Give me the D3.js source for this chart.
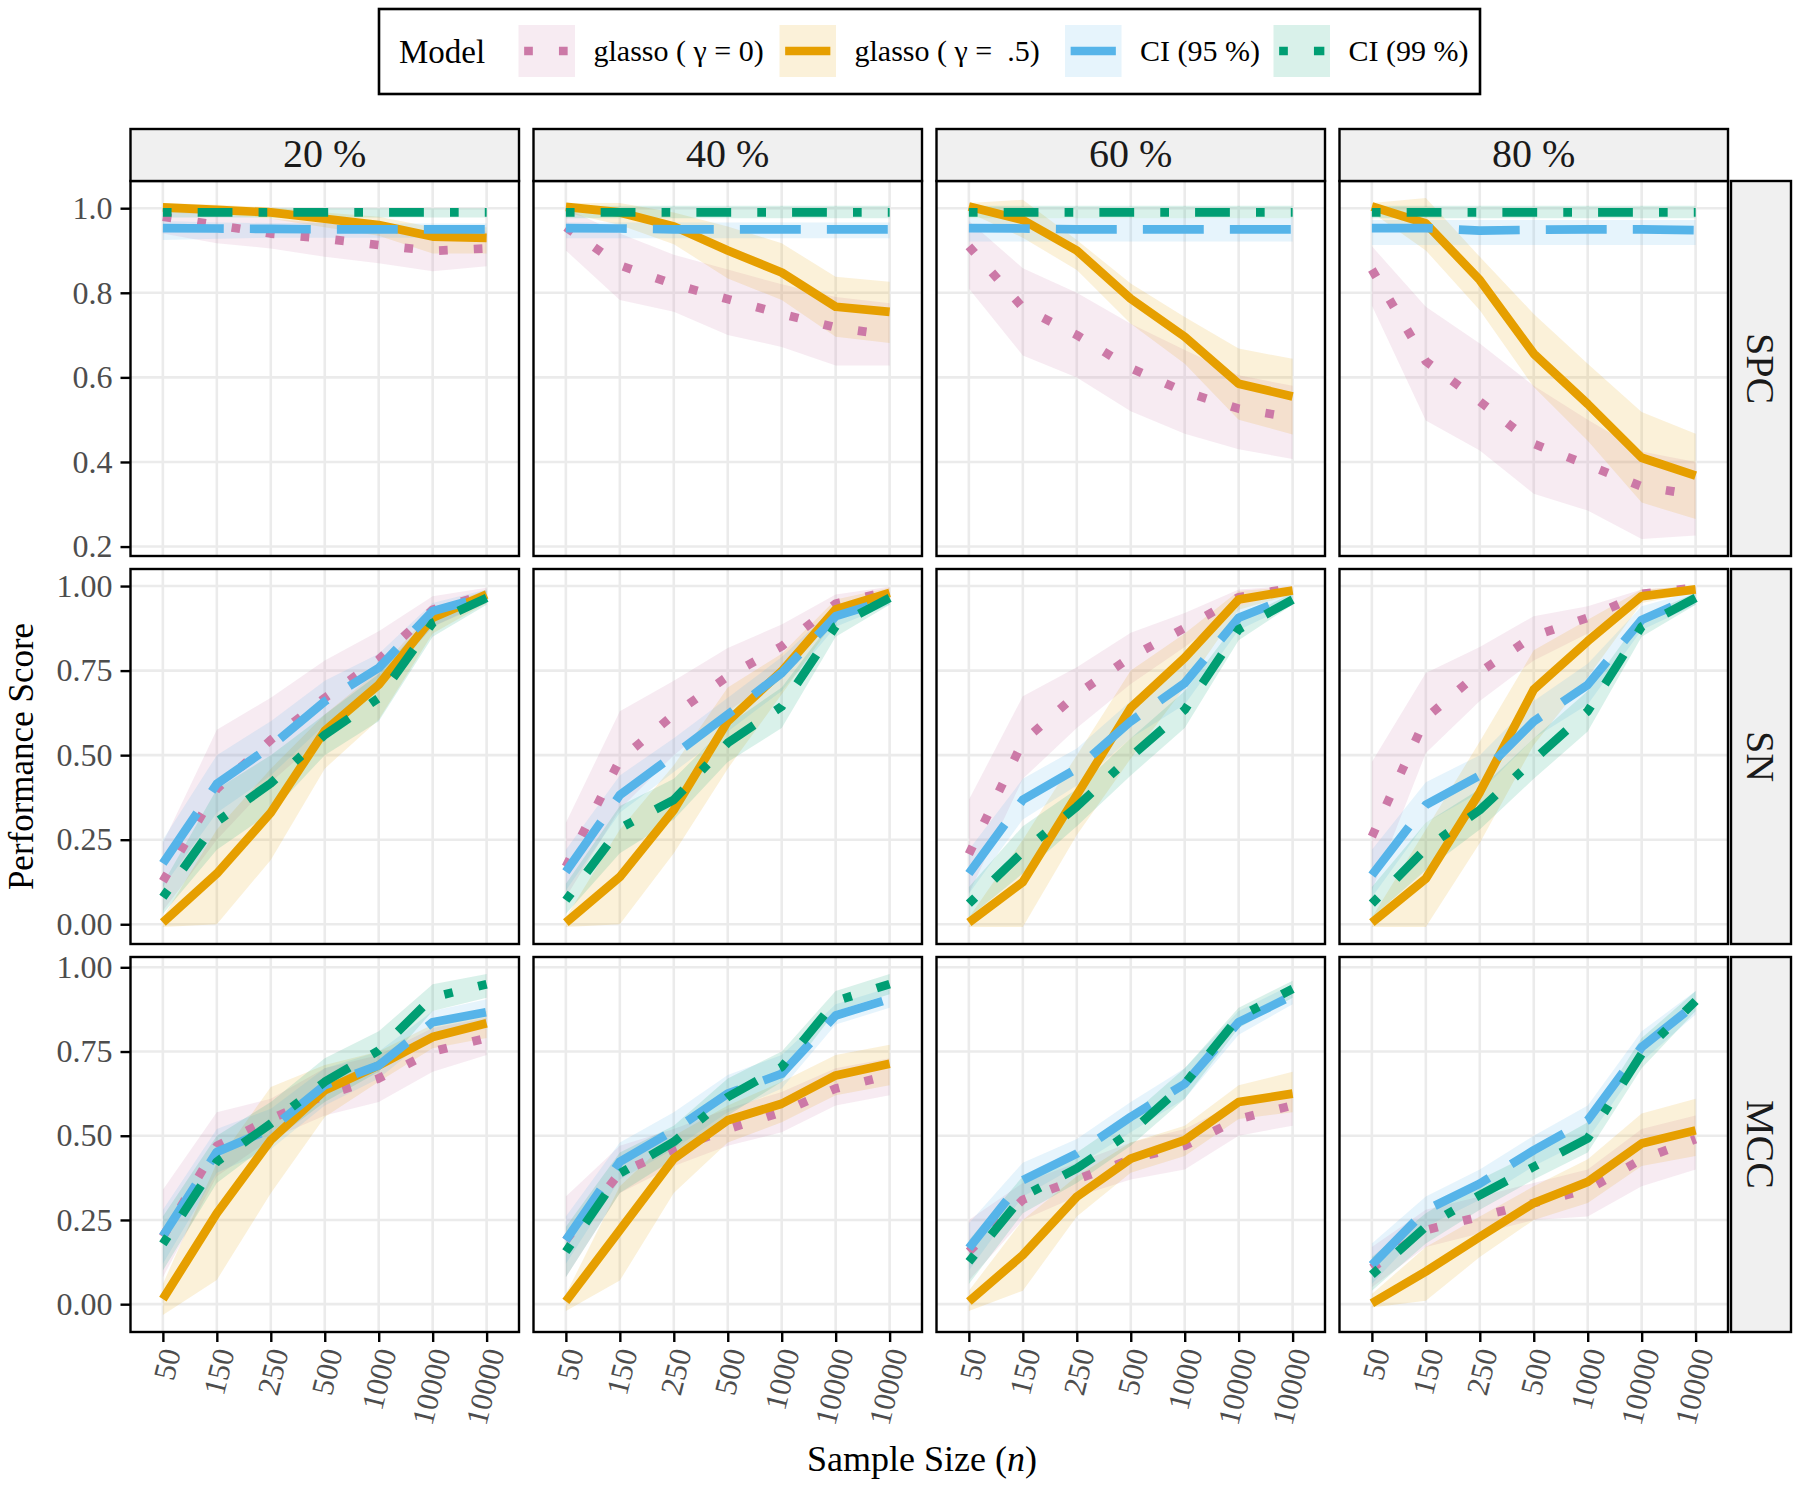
<!DOCTYPE html>
<html>
<head>
<meta charset="utf-8">
<script src="https://cdn.jsdelivr.net/npm/d3@7"></script>
<style>
  body { margin: 0; background: #fff; }
  text { font-family: "Liberation Serif", "Times New Roman", serif; }
</style>
</head>
<body>
<div id="main"></div>
<script>
// ---- data ----
var sampleSizes = ["50", "150", "250", "500", "1000", "10000", "10000"];
var proportions = ["20 %", "40 %", "60 %", "80 %"];
var metrics = ["SPC", "SN", "MCC"];
var modelNames = ["glasso ( \u03b3 = 0)", "glasso ( \u03b3 =  .5)", "CI (95 %)", "CI (99 %)"];
var spcTicks = [0.2, 0.4, 0.6, 0.8, 1.0];
var unitTicks = [0, 0.25, 0.5, 0.75, 1.0];

// SPC, one row per proportion (20, 40, 60, 80 %)
var spc_glasso0 = [
  [0.98, 0.96, 0.94, 0.928, 0.913, 0.899, 0.905],
  [0.955, 0.865, 0.82, 0.785, 0.75, 0.718, 0.70],
  [0.91, 0.765, 0.70, 0.622, 0.566, 0.526, 0.505],
  [0.855, 0.638, 0.543, 0.443, 0.393, 0.342, 0.322]];
var spc_glasso0_lo = [
  [0.94, 0.917, 0.905, 0.885, 0.87, 0.851, 0.863],
  [0.90, 0.783, 0.755, 0.70, 0.672, 0.628, 0.628],
  [0.81, 0.652, 0.60, 0.52, 0.467, 0.43, 0.407],
  [0.77, 0.498, 0.427, 0.325, 0.285, 0.218, 0.226]];
var spc_glasso0_hi = [
  [1.0, 0.985, 0.975, 0.965, 0.955, 0.94, 0.945],
  [1.0, 0.94, 0.89, 0.855, 0.82, 0.79, 0.775],
  [0.97, 0.858, 0.80, 0.727, 0.665, 0.605, 0.58],
  [0.91, 0.767, 0.68, 0.58, 0.50, 0.425, 0.40]];
var spc_glasso5 = [
  [1.002, 0.996, 0.99, 0.975, 0.96, 0.933, 0.93],
  [1.003, 0.99, 0.957, 0.90, 0.848, 0.767, 0.755],
  [1.004, 0.972, 0.90, 0.786, 0.696, 0.585, 0.555],
  [1.004, 0.964, 0.83, 0.656, 0.537, 0.41, 0.368]];
var spc_glasso5_lo = [
  [0.99, 0.985, 0.975, 0.955, 0.935, 0.893, 0.893],
  [0.99, 0.96, 0.915, 0.834, 0.783, 0.696, 0.681],
  [0.99, 0.93, 0.854, 0.727, 0.632, 0.50, 0.465],
  [0.99, 0.90, 0.759, 0.577, 0.45, 0.304, 0.265]];
var spc_glasso5_hi = [
  [1.012, 1.008, 1.002, 0.99, 0.98, 0.955, 0.955],
  [1.012, 1.012, 0.99, 0.957, 0.917, 0.838, 0.826],
  [1.012, 1.02, 0.925, 0.822, 0.743, 0.668, 0.644],
  [1.012, 1.024, 0.885, 0.75, 0.632, 0.518, 0.467]];
var spc_ci95 = [
  [0.953, 0.952, 0.951, 0.95, 0.95, 0.95, 0.95],
  [0.953, 0.952, 0.95, 0.95, 0.95, 0.95, 0.95],
  [0.953, 0.952, 0.95, 0.95, 0.95, 0.95, 0.95],
  [0.953, 0.953, 0.947, 0.949, 0.95, 0.95, 0.948]];
var spc_ci95_lo = [
  [0.925, 0.928, 0.93, 0.93, 0.93, 0.93, 0.93],
  [0.929, 0.929, 0.929, 0.929, 0.929, 0.929, 0.929],
  [0.921, 0.921, 0.921, 0.921, 0.921, 0.921, 0.921],
  [0.913, 0.913, 0.913, 0.913, 0.913, 0.913, 0.913]];
var spc_ci95_hi = [
  [0.97, 0.966, 0.965, 0.965, 0.964, 0.964, 0.964],
  [0.966, 0.966, 0.966, 0.966, 0.966, 0.966, 0.966],
  [0.976, 0.976, 0.976, 0.976, 0.976, 0.976, 0.976],
  [0.972, 0.972, 0.972, 0.972, 0.972, 0.972, 0.972]];
var spc_ci99 = [
  [0.99, 0.99, 0.99, 0.99, 0.99, 0.99, 0.99],
  [0.99, 0.99, 0.99, 0.99, 0.99, 0.99, 0.99],
  [0.99, 0.99, 0.99, 0.99, 0.99, 0.99, 0.99],
  [0.99, 0.99, 0.99, 0.99, 0.99, 0.99, 0.99]];
var spc_ci99_lo = [
  [0.978, 0.978, 0.978, 0.978, 0.978, 0.978, 0.978],
  [0.976, 0.976, 0.976, 0.976, 0.976, 0.976, 0.976],
  [0.976, 0.976, 0.976, 0.976, 0.976, 0.976, 0.976],
  [0.976, 0.976, 0.976, 0.976, 0.976, 0.976, 0.976]];
var spc_ci99_hi = [
  [1.0, 1.0, 1.0, 1.0, 1.0, 1.0, 1.0],
  [1.006, 1.006, 1.006, 1.006, 1.006, 1.006, 1.006],
  [1.006, 1.006, 1.006, 1.006, 1.006, 1.006, 1.006],
  [1.006, 1.006, 1.006, 1.006, 1.006, 1.006, 1.006]];

// SN
var sn_glasso0 = [
  [0.127, 0.40, 0.545, 0.669, 0.783, 0.93, 0.975],
  [0.17, 0.486, 0.62, 0.733, 0.822, 0.948, 0.985],
  [0.207, 0.54, 0.68, 0.79, 0.876, 0.967, 0.995],
  [0.259, 0.61, 0.746, 0.852, 0.906, 0.977, 0.995]];
var sn_glasso0_lo = [
  [0.04, 0.25, 0.42, 0.56, 0.70, 0.88, 0.95],
  [0.08, 0.34, 0.50, 0.63, 0.74, 0.92, 0.975],
  [0.09, 0.43, 0.58, 0.71, 0.82, 0.94, 0.985],
  [0.10, 0.506, 0.66, 0.78, 0.86, 0.955, 0.99]];
var sn_glasso0_hi = [
  [0.24, 0.575, 0.67, 0.78, 0.866, 0.97, 0.995],
  [0.30, 0.63, 0.72, 0.817, 0.886, 0.975, 0.998],
  [0.368, 0.674, 0.76, 0.862, 0.92, 0.99, 1.0],
  [0.48, 0.743, 0.82, 0.911, 0.94, 0.99, 1.0]];
var sn_glasso5 = [
  [0.005, 0.15, 0.33, 0.572, 0.708, 0.906, 0.975],
  [0.005, 0.14, 0.338, 0.60, 0.748, 0.931, 0.98],
  [0.005, 0.125, 0.382, 0.64, 0.788, 0.96, 0.987],
  [0.005, 0.135, 0.39, 0.694, 0.837, 0.97, 0.99]];
var sn_glasso5_lo = [
  [-0.008, 0.0, 0.19, 0.46, 0.605, 0.86, 0.95],
  [-0.008, 0.0, 0.21, 0.46, 0.68, 0.90, 0.97],
  [-0.008, -0.008, 0.264, 0.49, 0.70, 0.93, 0.975],
  [-0.008, -0.008, 0.24, 0.53, 0.73, 0.95, 0.98]];
var sn_glasso5_hi = [
  [0.02, 0.28, 0.46, 0.62, 0.75, 0.93, 0.99],
  [0.02, 0.28, 0.47, 0.70, 0.80, 0.96, 0.995],
  [0.02, 0.25, 0.50, 0.75, 0.86, 0.985, 0.998],
  [0.02, 0.28, 0.54, 0.81, 0.90, 0.99, 1.0]];
var sn_ci95 = [
  [0.18, 0.415, 0.526, 0.659, 0.758, 0.926, 0.97],
  [0.155, 0.382, 0.50, 0.62, 0.743, 0.911, 0.96],
  [0.15, 0.368, 0.46, 0.60, 0.713, 0.906, 0.97],
  [0.145, 0.353, 0.44, 0.60, 0.708, 0.90, 0.97]];
var sn_ci95_lo = [
  [0.11, 0.33, 0.44, 0.59, 0.70, 0.88, 0.955],
  [0.10, 0.33, 0.45, 0.57, 0.69, 0.88, 0.945],
  [0.09, 0.31, 0.41, 0.55, 0.65, 0.87, 0.945],
  [0.08, 0.30, 0.39, 0.55, 0.65, 0.87, 0.945]];
var sn_ci95_hi = [
  [0.25, 0.50, 0.60, 0.72, 0.80, 0.95, 0.99],
  [0.22, 0.44, 0.55, 0.67, 0.79, 0.94, 0.98],
  [0.22, 0.43, 0.52, 0.66, 0.77, 0.94, 0.985],
  [0.22, 0.42, 0.50, 0.66, 0.77, 0.94, 0.985]];
var sn_ci99 = [
  [0.08, 0.303, 0.417, 0.56, 0.669, 0.891, 0.965],
  [0.071, 0.284, 0.368, 0.536, 0.644, 0.881, 0.965],
  [0.061, 0.214, 0.348, 0.496, 0.634, 0.872, 0.96],
  [0.061, 0.224, 0.338, 0.486, 0.63, 0.88, 0.965]];
var sn_ci99_lo = [
  [0.03, 0.22, 0.33, 0.50, 0.60, 0.85, 0.945],
  [0.03, 0.21, 0.31, 0.48, 0.58, 0.85, 0.945],
  [0.02, 0.15, 0.29, 0.44, 0.58, 0.84, 0.945],
  [0.02, 0.16, 0.28, 0.43, 0.57, 0.85, 0.945]];
var sn_ci99_hi = [
  [0.12, 0.40, 0.50, 0.62, 0.74, 0.92, 0.985],
  [0.12, 0.35, 0.43, 0.59, 0.70, 0.91, 0.98],
  [0.11, 0.29, 0.40, 0.55, 0.69, 0.90, 0.98],
  [0.11, 0.30, 0.40, 0.55, 0.69, 0.91, 0.98]];

// MCC
var mcc_glasso0 = [
  [0.20, 0.47, 0.55, 0.62, 0.67, 0.75, 0.79],
  [0.19, 0.39, 0.46, 0.52, 0.57, 0.64, 0.68],
  [0.156, 0.31, 0.37, 0.43, 0.47, 0.55, 0.59],
  [0.107, 0.22, 0.26, 0.30, 0.34, 0.43, 0.49]];
var mcc_glasso0_lo = [
  [0.08, 0.38, 0.49, 0.56, 0.60, 0.69, 0.74],
  [0.08, 0.33, 0.41, 0.47, 0.51, 0.59, 0.62],
  [0.07, 0.25, 0.32, 0.37, 0.40, 0.50, 0.53],
  [0.05, 0.17, 0.21, 0.25, 0.26, 0.35, 0.40]];
var mcc_glasso0_hi = [
  [0.34, 0.57, 0.61, 0.70, 0.74, 0.82, 0.85],
  [0.32, 0.47, 0.52, 0.58, 0.63, 0.70, 0.73],
  [0.25, 0.36, 0.42, 0.48, 0.52, 0.60, 0.63],
  [0.17, 0.28, 0.32, 0.36, 0.40, 0.52, 0.56]];
var mcc_glasso5 = [
  [0.015, 0.27, 0.487, 0.635, 0.709, 0.793, 0.834],
  [0.008, 0.22, 0.432, 0.546, 0.595, 0.679, 0.714],
  [0.008, 0.146, 0.319, 0.432, 0.487, 0.60, 0.625],
  [0.003, 0.097, 0.20, 0.30, 0.363, 0.477, 0.516]];
var mcc_glasso5_lo = [
  [-0.032, 0.072, 0.329, 0.556, 0.66, 0.76, 0.79],
  [-0.02, 0.07, 0.33, 0.48, 0.54, 0.62, 0.65],
  [-0.02, 0.04, 0.26, 0.39, 0.44, 0.55, 0.57],
  [-0.01, 0.01, 0.14, 0.25, 0.30, 0.41, 0.44]];
var mcc_glasso5_hi = [
  [0.06, 0.42, 0.645, 0.71, 0.75, 0.83, 0.87],
  [0.03, 0.35, 0.50, 0.59, 0.66, 0.74, 0.77],
  [0.04, 0.25, 0.38, 0.48, 0.53, 0.65, 0.69],
  [0.03, 0.17, 0.26, 0.35, 0.43, 0.566, 0.61]];
var mcc_ci95 = [
  [0.202, 0.452, 0.52, 0.65, 0.709, 0.837, 0.867],
  [0.19, 0.423, 0.516, 0.625, 0.684, 0.857, 0.906],
  [0.166, 0.368, 0.447, 0.556, 0.654, 0.837, 0.916],
  [0.116, 0.279, 0.358, 0.457, 0.546, 0.763, 0.891]];
var mcc_ci95_lo = [
  [0.12, 0.39, 0.46, 0.59, 0.67, 0.80, 0.83],
  [0.12, 0.37, 0.46, 0.57, 0.64, 0.83, 0.88],
  [0.10, 0.32, 0.41, 0.51, 0.61, 0.80, 0.89],
  [0.06, 0.23, 0.31, 0.41, 0.49, 0.72, 0.86]];
var mcc_ci95_hi = [
  [0.28, 0.52, 0.58, 0.70, 0.75, 0.87, 0.905],
  [0.26, 0.48, 0.57, 0.68, 0.74, 0.89, 0.94],
  [0.24, 0.42, 0.49, 0.60, 0.70, 0.87, 0.95],
  [0.18, 0.32, 0.40, 0.50, 0.59, 0.81, 0.93]];
var mcc_ci99 = [
  [0.179, 0.423, 0.536, 0.66, 0.753, 0.911, 0.95],
  [0.156, 0.388, 0.482, 0.615, 0.704, 0.90, 0.95],
  [0.126, 0.32, 0.403, 0.511, 0.654, 0.852, 0.936],
  [0.087, 0.23, 0.324, 0.408, 0.492, 0.743, 0.90]];
var mcc_ci99_lo = [
  [0.10, 0.36, 0.48, 0.60, 0.69, 0.87, 0.91],
  [0.08, 0.33, 0.43, 0.56, 0.66, 0.87, 0.92],
  [0.06, 0.27, 0.36, 0.47, 0.61, 0.82, 0.91],
  [0.04, 0.18, 0.28, 0.37, 0.45, 0.70, 0.87]];
var mcc_ci99_hi = [
  [0.26, 0.50, 0.60, 0.73, 0.81, 0.95, 0.98],
  [0.23, 0.45, 0.53, 0.67, 0.75, 0.93, 0.98],
  [0.19, 0.38, 0.45, 0.56, 0.70, 0.88, 0.96],
  [0.14, 0.27, 0.37, 0.45, 0.54, 0.79, 0.93]];

// ---- styling ----
var colors = ["#CC79A7", "#E69F00", "#56B4E9", "#009E73"];
var lwd = 8.7;
// ggplot linetypes: dotted "13", solid, longdash "73", dotdash "1343"
var dashes = [
  [1, 3].map(function(d) { return d * lwd; }).join(","),
  null,
  [7, 3].map(function(d) { return d * lwd; }).join(","),
  [1, 3, 4, 3].map(function(d) { return d * lwd; }).join(",")
];
var ribbonAlpha = 0.15;

var width = 1800, height = 1489;
var panelLeft = 130.5, panelWidth = 388.5, colGap = 14.5;
var panelTop = 181, panelHeight = 375, rowGap = 13;
var stripH = 52, stripW = 60;

// rows of [mean, lo, hi] per model
var table = [
  [[spc_glasso0, spc_glasso0_lo, spc_glasso0_hi], [spc_glasso5, spc_glasso5_lo, spc_glasso5_hi],
   [spc_ci95, spc_ci95_lo, spc_ci95_hi], [spc_ci99, spc_ci99_lo, spc_ci99_hi]],
  [[sn_glasso0, sn_glasso0_lo, sn_glasso0_hi], [sn_glasso5, sn_glasso5_lo, sn_glasso5_hi],
   [sn_ci95, sn_ci95_lo, sn_ci95_hi], [sn_ci99, sn_ci99_lo, sn_ci99_hi]],
  [[mcc_glasso0, mcc_glasso0_lo, mcc_glasso0_hi], [mcc_glasso5, mcc_glasso5_lo, mcc_glasso5_hi],
   [mcc_ci95, mcc_ci95_lo, mcc_ci95_hi], [mcc_ci99, mcc_ci99_lo, mcc_ci99_hi]]
];
var rowTicks = [spcTicks, unitTicks, unitTicks];
var rowFormat = [d3.format(".1f"), d3.format(".2f"), d3.format(".2f")];

var svg = d3.select("#main").append("svg")
  .attr("width", width)
  .attr("height", height);

svg.append("rect").attr("width", width).attr("height", height).attr("fill", "#fff");

// free y per row, ggplot style 5% expansion
function rowDomain(r) {
  var lo = d3.min(table[r], function(m) { return d3.min(m[1], function(p) { return d3.min(p); }); });
  var hi = d3.max(table[r], function(m) { return d3.max(m[2], function(p) { return d3.max(p); }); });
  var pad = (hi - lo) * 0.05;
  return [lo - pad, hi + pad];
}

metrics.forEach(function(metric, r) {
  var y0 = panelTop + r * (panelHeight + rowGap);
  var y = d3.scaleLinear().domain(rowDomain(r)).range([y0 + panelHeight, y0]);

  proportions.forEach(function(prop, c) {
    var x0 = panelLeft + c * (panelWidth + colGap);
    var x = d3.scalePoint()
      .domain(d3.range(sampleSizes.length))
      .range([x0, x0 + panelWidth])
      .padding(0.6);

    var clipId = "clip-" + r + "-" + c;
    svg.append("clipPath").attr("id", clipId)
      .append("rect")
      .attr("x", x0).attr("y", y0)
      .attr("width", panelWidth).attr("height", panelHeight);

    var g = svg.append("g").attr("clip-path", "url(#" + clipId + ")");

    // grid
    g.selectAll(".vgrid")
      .data(d3.range(sampleSizes.length))
      .enter().append("line")
      .attr("x1", function(d) { return x(d); })
      .attr("x2", function(d) { return x(d); })
      .attr("y1", y0).attr("y2", y0 + panelHeight)
      .attr("stroke", "#EBEBEB").attr("stroke-width", 2.6);
    g.selectAll(".hgrid")
      .data(rowTicks[r])
      .enter().append("line")
      .attr("x1", x0).attr("x2", x0 + panelWidth)
      .attr("y1", function(d) { return y(d); })
      .attr("y2", function(d) { return y(d); })
      .attr("stroke", "#EBEBEB").attr("stroke-width", 2.6);

    var area = d3.area()
      .x(function(d) { return x(d.i); })
      .y0(function(d) { return y(d.lo); })
      .y1(function(d) { return y(d.hi); });

    var line = d3.line()
      .x(function(d, i) { return x(i); })
      .y(function(d) { return y(d); });

    // ribbons first, then lines
    table[r].forEach(function(m, k) {
      var pts = m[0][c].map(function(v, i) {
        return { i: i, lo: m[1][c][i], hi: m[2][c][i] };
      });
      g.append("path")
        .attr("d", area(pts))
        .attr("fill", colors[k])
        .attr("fill-opacity", ribbonAlpha);
    });
    table[r].forEach(function(m, k) {
      var p = g.append("path")
        .attr("d", line(m[0][c]))
        .attr("fill", "none")
        .attr("stroke", colors[k])
        .attr("stroke-width", lwd)
        .attr("stroke-linejoin", "round")
        .attr("stroke-linecap", "butt");
      if (dashes[k]) p.attr("stroke-dasharray", dashes[k]);
    });

    // panel border
    svg.append("rect")
      .attr("x", x0).attr("y", y0)
      .attr("width", panelWidth).attr("height", panelHeight)
      .attr("fill", "none").attr("stroke", "#000").attr("stroke-width", 2.4);

    // column strips on top
    if (r === 0) {
      svg.append("rect")
        .attr("x", x0).attr("y", panelTop - stripH)
        .attr("width", panelWidth).attr("height", stripH)
        .attr("fill", "#F0F0F0").attr("stroke", "#000").attr("stroke-width", 2.4);
      svg.append("text")
        .attr("x", x0 + panelWidth / 2)
        .attr("y", panelTop - stripH / 2)
        .attr("dy", "0.29em")
        .attr("text-anchor", "middle")
        .attr("font-size", 40)
        .attr("fill", "#1A1A1A")
        .text(prop);
    }

    // y axis on the first column
    if (c === 0) {
      var ya = svg.append("g")
        .attr("transform", "translate(" + x0 + ",0)")
        .call(d3.axisLeft(y).tickValues(rowTicks[r]).tickSize(10).tickPadding(8).tickFormat(rowFormat[r]));
      ya.select(".domain").remove();
      ya.selectAll("line").attr("stroke", "#000").attr("stroke-width", 2.4);
      ya.selectAll("text")
        .attr("font-family", "Liberation Serif, Times New Roman, serif")
        .attr("font-size", 32)
        .attr("fill", "#4D4D4D");
    }

    // x axis under the last row
    if (r === metrics.length - 1) {
      var xa = svg.append("g")
        .attr("transform", "translate(0," + (y0 + panelHeight) + ")")
        .call(d3.axisBottom(x).tickSize(10).tickFormat(function(i) { return sampleSizes[i]; }));
      xa.select(".domain").remove();
      xa.selectAll("line").attr("stroke", "#000").attr("stroke-width", 2.4);
      xa.selectAll("text")
        .attr("x", 0).attr("y", 0)
        .attr("dy", "0.35em")
        .attr("transform", "translate(7,17) rotate(-76)")
        .attr("text-anchor", "end")
        .attr("font-family", "Liberation Serif, Times New Roman, serif")
        .attr("font-size", 31)
        .attr("fill", "#4D4D4D");
    }
  });

  // row strip on the right
  var sx = panelLeft + 4 * panelWidth + 3 * colGap + 3;
  svg.append("rect")
    .attr("x", sx).attr("y", y0)
    .attr("width", stripW).attr("height", panelHeight)
    .attr("fill", "#F0F0F0").attr("stroke", "#000").attr("stroke-width", 2.4);
  svg.append("text")
    .attr("transform", "translate(" + (sx + stripW / 2) + "," + (y0 + panelHeight / 2) + ") rotate(90)")
    .attr("dy", "0.34em")
    .attr("text-anchor", "middle")
    .attr("font-size", 40)
    .attr("fill", "#1A1A1A")
    .text(metric);
});

// axis titles
svg.append("text")
  .attr("transform", "translate(33," + (panelTop + (3 * panelHeight + 2 * rowGap) / 2) + ") rotate(-90)")
  .attr("text-anchor", "middle")
  .attr("font-size", 35)
  .attr("fill", "#000")
  .text("Performance Score");

var xt = svg.append("text")
  .attr("x", 922)
  .attr("y", 1471)
  .attr("text-anchor", "middle")
  .attr("font-size", 36)
  .attr("fill", "#000");
xt.append("tspan").text("Sample Size (");
xt.append("tspan").attr("font-style", "italic").text("n");
xt.append("tspan").text(")");

// legend
var legend = svg.append("g");
legend.append("rect")
  .attr("x", 379).attr("y", 9)
  .attr("width", 1101).attr("height", 85)
  .attr("fill", "#fff").attr("stroke", "#000").attr("stroke-width", 2.6);
legend.append("text")
  .attr("x", 399).attr("y", 51.5).attr("dy", "0.34em")
  .attr("font-size", 33)
  .text("Model");

var keyX = [518.5, 779.5, 1065, 1273.5];
var keyW = 56.5, keyY = 25, keyH = 52;

modelNames.forEach(function(name, k) {
  legend.append("rect")
    .attr("x", keyX[k]).attr("y", keyY)
    .attr("width", keyW).attr("height", keyH)
    .attr("fill", colors[k]).attr("fill-opacity", ribbonAlpha);
  var kl = legend.append("line")
    .attr("x1", keyX[k] + keyW * 0.1).attr("x2", keyX[k] + keyW * 0.9)
    .attr("y1", keyY + keyH / 2).attr("y2", keyY + keyH / 2)
    .attr("stroke", colors[k]).attr("stroke-width", lwd)
    .attr("stroke-linecap", "butt");
  if (dashes[k]) kl.attr("stroke-dasharray", dashes[k]);
  legend.append("text")
    .attr("x", keyX[k] + keyW + 18.5)
    .attr("y", keyY + keyH / 2).attr("dy", "0.34em")
    .attr("font-size", 30)
    .style("white-space", "pre")
    .text(name);
});
</script>
</body>
</html>
